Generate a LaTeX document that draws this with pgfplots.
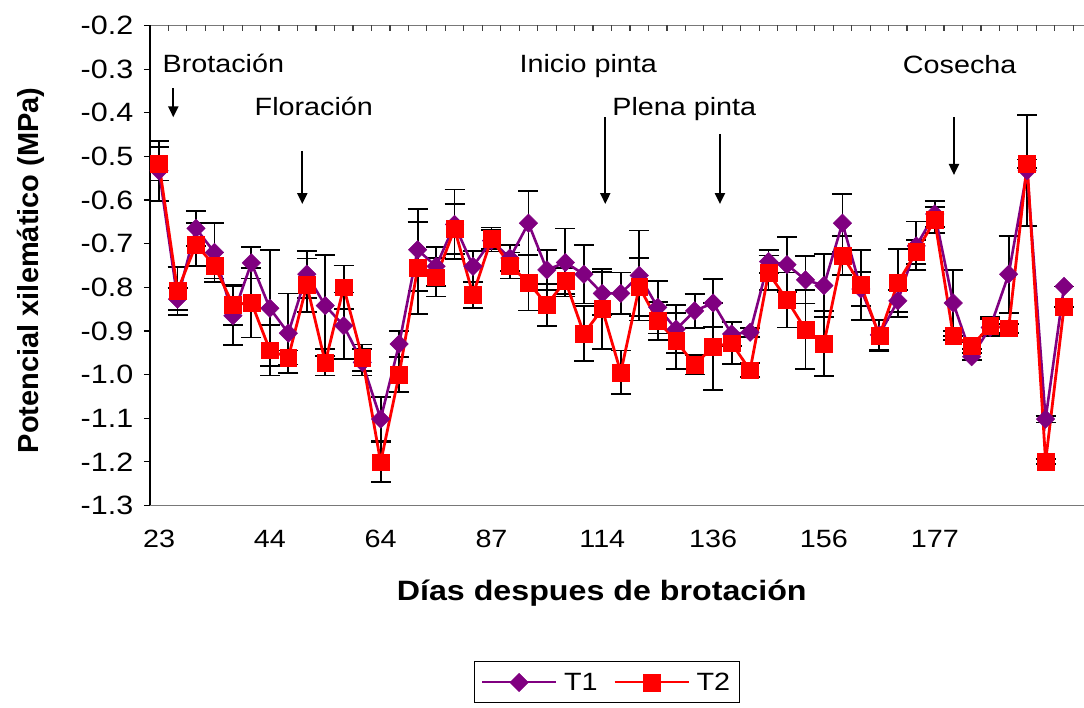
\documentclass[border=0pt]{standalone}
\usepackage{fontspec}
\setmainfont{Liberation Sans}[FakeStretch=1.15]
\newfontfamily\plainsans{Liberation Sans}
\usepackage{pgfplots}
\pgfplotsset{compat=1.18}
\usepackage{pgfplotstable}
\usetikzlibrary{arrows.meta}

\definecolor{tuno}{RGB}{128,0,128}
\definecolor{tdos}{RGB}{255,0,0}
\definecolor{ejegris}{RGB}{120,120,120}

% i = sampling date index; t1/t2 = xylem water potential (MPa); e1/e2 = error
\pgfplotstableread{
i  t1      e1     t2      e2
0  -0.533  0.069  -0.517  0.038
1  -0.827  0.025  -0.808  0.055
2  -0.665  0.040  -0.702  0.050
3  -0.720  0.067  -0.750  0.030
4  -0.865  0.068  -0.840  0.046
5  -0.744  0.036  -0.835  0.080
6  -0.848  0.133  -0.944  0.058
7  -0.905  0.091  -0.961  0.016
8  -0.770  0.054  -0.795  0.061
9  -0.842  0.116  -0.972  0.030
10 -0.888  0.076  -0.800  0.050
11 -0.972  0.030  -0.961  0.030
12 -1.102  0.050  -1.201  0.046
13 -0.930  0.030  -1.000  0.040
14 -0.714  0.094  -0.756  0.106
15 -0.752  0.045  -0.777  0.044
16 -0.656  0.080  -0.666  0.057
17 -0.752  0.036  -0.817  0.030
18 -0.693  0.025  -0.688  0.025
19 -0.733  0.030  -0.750  0.030
20 -0.653  0.073  -0.789  0.064
21 -0.760  0.046  -0.840  0.048
22 -0.743  0.078  -0.785  0.030
23 -0.770  0.067  -0.906  0.063
24 -0.814  0.050  -0.850  0.092
25 -0.814  0.048  -0.995  0.050
26 -0.773  0.103  -0.799  0.067
27 -0.846  0.060  -0.877  0.043
28 -0.896  0.055  -0.923  0.065
29 -0.854  0.039  -0.978  0.022
30 -0.836  0.055  -0.936  0.100
31 -0.907  0.027  -0.928  0.048
32 -0.903  0.010  -0.990  0.016
33 -0.741  0.027  -0.767  0.040
34 -0.748  0.063  -0.829  0.063
35 -0.783  0.054  -0.897  0.091
36 -0.796  0.072  -0.929  0.075
37 -0.653  0.066  -0.727  0.044
38 -0.804  0.039  -0.795  0.080
39 -0.909  0.035  -0.911  0.035
40 -0.831  0.025  -0.790  0.078
41 -0.705  0.056  -0.719  0.028
42 -0.632  0.030  -0.646  0.030
43 -0.836  0.076  -0.911  0.010
44 -0.959  0.008  -0.934  0.008
45 -0.892  0.020  -0.888  0.020
46 -0.770  0.088  -0.894  0.010
47 -0.533  0.127  -0.517  0.010
48 -1.102  0.008  -1.199  0.005
49 -0.798  0.000  -0.845  0.000
}\datos

\begin{document}
\begin{tikzpicture}
\begin{axis}[
  at={(0pt,0pt)}, anchor=south west,
  scale only axis, width=934.2pt, height=480pt,
  xmin=-0.5, xmax=50.08, ymin=-1.3, ymax=-0.2,
  clip=false,
  axis line style={draw=none},
  tick align=outside,
  major tick length=6pt,
  ytick={-1.3,-1.2,-1.1,-1.0,-0.9,-0.8,-0.7,-0.6,-0.5,-0.4,-0.3,-0.2},
  ytick pos=left,
  y tick style={black, line width=1.2pt},
  xtick={0,6,12,18,24,30,36,42},
  xticklabels={23,44,64,87,114,136,156,177},
  xtick pos=bottom,
  x tick style={draw=none},
  yticklabel style={font=\fontsize{26.5}{31}\selectfont, xshift=-7pt,
    /pgf/number format/.cd, fixed, fixed zerofill, precision=1, assume math mode=true},
  xticklabel style={font=\fontsize{25}{30}\selectfont, yshift=-15pt},
  legend columns=2,
  legend style={at={(0.489,-0.325)}, anchor=north, draw=black, line width=1pt,
    font=\fontsize{25}{30}\selectfont, inner xsep=7pt, inner ysep=9pt,
    /tikz/every odd column/.append style={column sep=5pt},
    /tikz/every even column/.append style={column sep=14pt}},
  legend image code/.code={%
    \draw[mark repeat=2, mark phase=2, #1, line width=2pt]
      plot coordinates {(0pt,0pt) (37pt,0pt) (74pt,0pt)};},
]
% error bars behind the series
\addplot[draw=none, mark=none, forget plot,
  error bars/.cd, y dir=both, y explicit,
  error bar style={draw=black, solid, line width=1.8pt},
  error mark options={draw=black, solid, rotate=90, mark size=10pt, line width=1.8pt}]
  table[x=i, y=t1, y error=e1] {\datos};
\addplot[draw=none, mark=none, forget plot,
  error bars/.cd, y dir=both, y explicit,
  error bar style={draw=black, solid, line width=1.8pt},
  error mark options={draw=black, solid, rotate=90, mark size=10pt, line width=1.8pt}]
  table[x=i, y=t2, y error=e2] {\datos};

\addplot[color=tuno, line width=2.6pt, mark=square*,
  mark options={solid, rotate=45, fill=tuno, draw=tuno, line width=0.5pt},
  mark size=6.5pt]
  table[x=i, y=t1] {\datos};
\addlegendentry{T1}
\addplot[color=tdos, line width=2.8pt, mark=square*,
  mark options={solid, fill=tdos, draw=tdos, line width=0.5pt},
  mark size=8.4pt]
  table[x=i, y=t2] {\datos};
\addlegendentry{T2}

% frame: top category axis with boundary ticks, bottom border, value axis
\draw[ejegris, line width=1.3pt] (axis cs:-0.5,-0.2) -- (axis cs:50.08,-0.2);
\draw[ejegris, line width=1.3pt] (axis cs:-0.5,-1.3) -- (axis cs:50.08,-1.3);
\pgfplotsinvokeforeach{0,...,49}{%
  \draw[black!75, line width=1.2pt] (axis cs:#1+0.5,-0.2) -- ++(0pt,-6pt);}
\draw[black, line width=1.6pt] (axis cs:-0.5,-0.2) -- (axis cs:-0.5,-1.3);

% phenological stages
\begin{scope}[font=\fontsize{25}{30}\selectfont]
\node[anchor=base, inner sep=0pt] at (axis cs:3.48,-0.3086) {Brotación};
\node[anchor=base, inner sep=0pt] at (axis cs:8.38,-0.4074) {Floración};
\node[anchor=base, inner sep=0pt] at (axis cs:23.24,-0.3086) {Inicio pinta};
\node[anchor=base, inner sep=0pt] at (axis cs:28.44,-0.4074) {Plena pinta};
\node[anchor=base, inner sep=0pt] at (axis cs:43.35,-0.3091) {Cosecha};
\end{scope}
\begin{scope}[line width=2.2pt, -{Triangle[length=11pt, width=10pt]}]
\draw (axis cs:0.772,-0.3439) -- (axis cs:0.772,-0.4104);
\draw (axis cs:7.756,-0.4876) -- (axis cs:7.756,-0.6091);
\draw (axis cs:24.16,-0.4104) -- (axis cs:24.16,-0.6091);
\draw (axis cs:30.37,-0.4486) -- (axis cs:30.37,-0.6091);
\draw (axis cs:43.04,-0.4104) -- (axis cs:43.04,-0.5426);
\end{scope}

% axis titles
\node[anchor=base, font=\bfseries\fontsize{28}{34}\selectfont]
  at (axis description cs:0.4838,-0.1979) {Días despues de brotación};
\node[rotate=90, anchor=center, font=\plainsans\bfseries\fontsize{29}{35}\selectfont]
  at (axis description cs:-0.1277,0.49) {Potencial xilemático (MPa)};
\end{axis}
\pgfresetboundingbox
\path[use as bounding box] (-149.8pt,-202.5pt) rectangle (934.2pt,505.5pt);
\end{tikzpicture}
\end{document}
